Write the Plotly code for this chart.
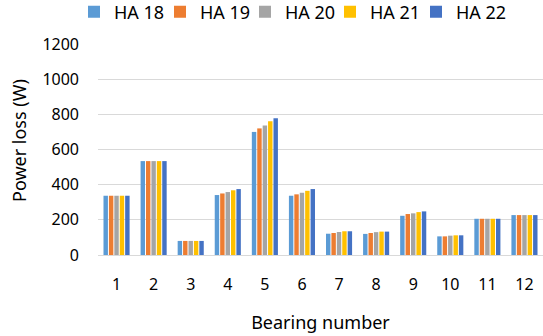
import plotly.graph_objects as go

bearings = ["1", "2", "3", "4", "5", "6", "7", "8", "9", "10", "11", "12"]
series_names = ["HA 18", "HA 19", "HA 20", "HA 21", "HA 22"]
ha18 = [337, 534, 80, 341, 700, 337, 121, 120, 223, 106, 206, 227]
ha19 = [337, 534, 80, 350, 720, 345, 125, 125, 233, 106, 206, 227]
ha20 = [337, 534, 80, 358, 737, 354, 131, 130, 237, 110, 206, 227]
ha21 = [337, 534, 80, 368, 761, 365, 135, 133, 244, 112, 206, 227]
ha22 = [337, 534, 80, 375, 778, 375, 135, 133, 248, 112, 206, 227]
colors = ["#5B9BD5", "#ED7D31", "#A5A5A5", "#FFC000", "#4472C4"]
y_ticks = [0, 200, 400, 600, 800, 1000, 1200]

FONT = "Noto Sans"
W, H = 543, 336
legend_x_px = [74, 160, 245, 330, 416]
legend_ids = ["legend", "legend2", "legend3", "legend4", "legend5"]

fig = go.Figure()
for name, vals, c, lid in zip(series_names, [ha18, ha19, ha20, ha21, ha22], colors, legend_ids):
    fig.add_trace(go.Bar(x=bearings, y=vals, name=name, legend=lid,
                         marker=dict(color=c, line=dict(width=0))))

layout = dict(
    width=W, height=H,
    margin=dict(l=98, r=0, t=44, b=81, autoexpand=False),
    paper_bgcolor="white", plot_bgcolor="white",
    barmode="group", bargap=0.27, bargroupgap=0.18,
    font=dict(family=FONT, size=16, color="#000000"),
    showlegend=True,
    xaxis=dict(showgrid=False, showline=False, ticks="", tickfont=dict(size=16),
               ticklabelstandoff=18,
               title=dict(text="Bearing number", font=dict(size=18), standoff=22)),
    yaxis=dict(range=[0, 1200], tickvals=y_ticks, showgrid=True, gridcolor="#D9D9D9",
               gridwidth=1, zeroline=True, zerolinecolor="#D9D9D9", zerolinewidth=1,
               showline=False, ticks="", tickfont=dict(size=16), ticklabelstandoff=18),
    annotations=[dict(text="Power loss (W)", showarrow=False, textangle=-90,
                      font=dict(size=18, family=FONT), xref="paper", yref="paper",
                      x=(19 - 98) / (543 - 98), y=(255 - 141) / (255 - 44),
                      xanchor="center", yanchor="middle")],
)
for lid, lx in zip(legend_ids, legend_x_px):
    layout[lid] = dict(orientation="h", x=lx / W, xanchor="left", xref="container",
                       y=1.0 - 12 / H, yanchor="middle", yref="container",
                       font=dict(size=18, family=FONT), itemwidth=30,
                       bgcolor="rgba(0,0,0,0)")
fig.update_layout(**layout)
fig.write_html("out.html")
